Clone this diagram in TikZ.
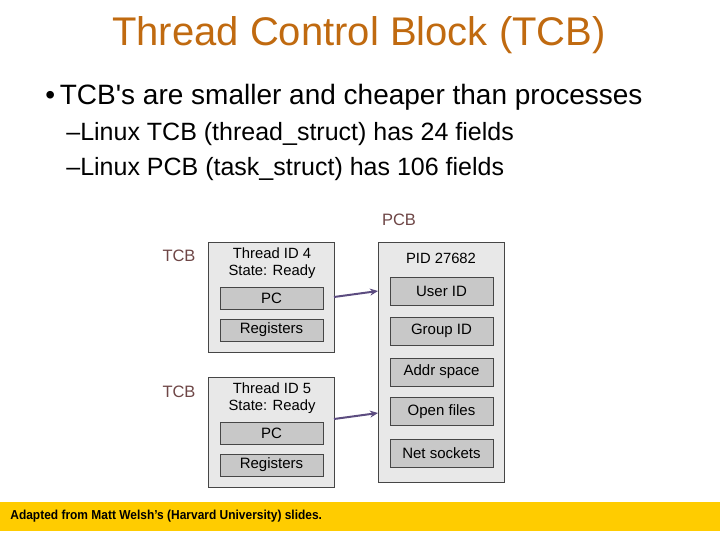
\documentclass[tikz,border=0pt]{standalone}
\usepackage{fontspec}
\setmainfont{Liberation Sans}
\newfontfamily\footfont[FakeStretch=0.92]{Liberation Sans}
\usetikzlibrary{arrows.meta}

\definecolor{titleorange}{RGB}{192,106,16}
\definecolor{labelbrown}{RGB}{110,70,70}
\definecolor{boxgray}{RGB}{232,232,232}
\definecolor{fieldgray}{RGB}{200,200,200}
\definecolor{edgegray}{RGB}{70,70,70}
\definecolor{linkpurple}{RGB}{92,76,128}
\definecolor{footyellow}{RGB}{255,204,0}

\tikzset{every picture/.style={line width=0.75pt}}
\tikzset{
  block/.style={draw=edgegray, fill=boxgray, line width=0.8pt},
  field/.style={draw=edgegray, fill=fieldgray, line width=0.8pt, inner sep=0pt,
    minimum width=103pt, minimum height=22pt, font=\fontsize{15}{16}\selectfont},
  pfield/.style={field, minimum width=103pt, minimum height=28pt},
  txt/.style={inner sep=0pt, font=\fontsize{14.8}{17}\selectfont, align=center},
  tag/.style={inner sep=0pt, text=labelbrown, font=\fontsize{16.5}{18}\selectfont},
  link/.style={draw=linkpurple, line width=2pt, -{Stealth[length=8pt,width=7pt]}}
}

\begin{document}
\begin{tikzpicture}[x=1pt,y=1pt,yscale=-1,xscale=1]
\useasboundingbox (0,0) rectangle (720,540);

% Title and bullets
\node (title) [inner sep=0pt, text=titleorange, font=\fontsize{40}{44}\selectfont] at (359,35.5) {Thread Control Block (TCB)};
\node (bul1) [inner sep=0pt, anchor=west, font=\fontsize{28}{32}\selectfont] at (45,97.5) {\textbullet\,TCB\textquotesingle s are smaller and cheaper than processes};
\node (bul2) [inner sep=0pt, anchor=west, font=\fontsize{25}{28}\selectfont] at (66,134) {\textendash Linux TCB (thread\_struct) has 24 fields};
\node (bul3) [inner sep=0pt, anchor=west, font=\fontsize{25}{28}\selectfont] at (66,169) {\textendash Linux PCB (task\_struct) has 106 fields};

%Shape: first TCB
\draw [block] (208,242) rectangle (334,352);
\node (tcbA) [tag] at (179,256) {TCB};
\node (idA) [txt] at (272,263.5) {Thread ID 4\\State: Ready};
\node (pcA) [field] at (271.5,298) {PC};
\node (regA) [field] at (271.5,330) {Registers};

%Shape: second TCB
\draw [block] (208,377) rectangle (334,487);
\node (tcbB) [tag] at (179,392) {TCB};
\node (idB) [txt] at (272,398) {Thread ID 5\\State: Ready};
\node (pcB) [field] at (271.5,433) {PC};
\node (regB) [field] at (271.5,465) {Registers};

%Shape: PCB
\node (pcb) [tag] at (399,220) {PCB};
\draw [block] (378,242) rectangle (504,482);
\node (pid) [txt] at (441,258.5) {PID 27682};
\node (uid) [pfield] at (441.5,291) {User ID};
\node (gid) [pfield] at (441.5,331) {Group ID};
\node (addr) [pfield] at (441.5,372) {Addr space};
\node (files) [pfield] at (441.5,411.5) {Open files};
\node (sock) [pfield] at (441.5,453) {Net sockets};

% Links
\coordinate (outA) at (334,297);
\coordinate (inA) at (378,291);
\coordinate (outB) at (334,419);
\coordinate (inB) at (378,413);
\draw [link] (outA) -- (inA);
\draw [link] (outB) -- (inB);

% Footer
\fill [footyellow] (0,502) rectangle (720,531);
\node (foot) [inner sep=0pt, anchor=west, font=\footfont\bfseries\fontsize{13}{15}\selectfont] at (10,516) {Adapted from Matt Welsh’s (Harvard University) slides.};

\end{tikzpicture}
\end{document}
